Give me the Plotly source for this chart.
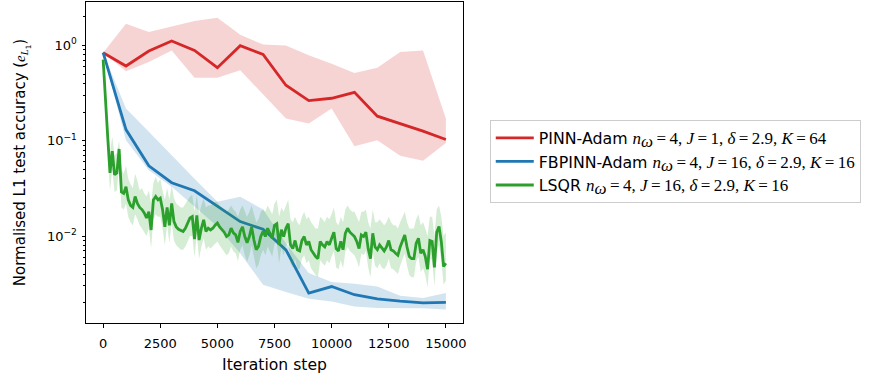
import plotly.graph_objects as go

# ---------------- data ----------------
coarse_steps = list(range(0, 15001, 1000))
fine_steps = list(range(0, 15001, 100))

pinn_mean = [0.838, 0.608, 0.872, 1.11, 0.887, 0.584, 0.993, 0.805, 0.382, 0.264,
             0.279, 0.322, 0.181, 0.152, 0.126, 0.103]
pinn_upper = [0.838, 1.69, 1.38, 1.58, 1.80, 1.95, 1.29, 1.02, 1.0, 0.786,
              0.643, 0.514, 0.584, 0.852, 0.886, 0.171]
pinn_lower = [0.838, 0.535, 0.670, 0.886, 0.459, 0.459, 0.548, 0.305, 0.171, 0.152,
              0.218, 0.0878, 0.101, 0.0695, 0.0617, 0.095]

fb_mean = [0.838, 0.131, 0.0546, 0.0363, 0.0299, 0.0204, 0.0142, 0.0118, 0.00718, 0.00253,
           0.00296, 0.00243, 0.0022, 0.00208, 0.0020, 0.00202]
fb_upper = [0.838, 0.218, 0.124, 0.070, 0.040, 0.023, 0.0259, 0.019, 0.0084, 0.0041,
            0.0033, 0.00316, 0.00296, 0.00237, 0.00224, 0.00253]
fb_lower = [0.838, 0.101, 0.049, 0.033, 0.0204, 0.0126, 0.0066, 0.0031, 0.0026, 0.0022,
            0.00206, 0.00183, 0.00176, 0.00176, 0.00175, 0.0017]

lsqr_mean = [0.71, 0.25, 0.11, 0.046, 0.078, 0.044, 0.046, 0.082, 0.029, 0.028,
             0.033, 0.024, 0.021, 0.020, 0.026, 0.022, 0.020, 0.019, 0.0175, 0.0155,
             0.018, 0.0116, 0.024, 0.026, 0.024, 0.025, 0.019, 0.0125, 0.020, 0.013,
             0.022, 0.0142, 0.0125, 0.0118, 0.0114, 0.0112, 0.0121, 0.0137, 0.0155, 0.016,
             0.0093, 0.0165, 0.0091, 0.0121, 0.0148, 0.0112, 0.0121, 0.0116, 0.0121, 0.013,
             0.0137, 0.0125, 0.0116, 0.011, 0.0099, 0.0103, 0.0121, 0.0108, 0.0103, 0.0086,
             0.0112, 0.0125, 0.0099, 0.0085, 0.0099, 0.0125, 0.0091, 0.0072, 0.0078, 0.0099,
             0.0112, 0.0099, 0.0121, 0.0108, 0.0095, 0.013, 0.0135, 0.0081, 0.0117, 0.0099,
             0.0121, 0.0135, 0.0081, 0.0074, 0.009, 0.0072, 0.007, 0.009, 0.0099, 0.0081,
             0.0088, 0.0072, 0.0066, 0.0061, 0.0058, 0.0088, 0.0081, 0.0077, 0.0088, 0.0081,
             0.0095, 0.011, 0.0074, 0.007, 0.0088, 0.0072, 0.0107, 0.0121, 0.011, 0.0103,
             0.0099, 0.0088, 0.0074, 0.0103, 0.0099, 0.011, 0.0074, 0.0058, 0.0107, 0.0077,
             0.0072, 0.0081, 0.0074, 0.007, 0.0077, 0.009, 0.0072, 0.007, 0.0066, 0.0063,
             0.0077, 0.0088, 0.0103, 0.0077, 0.0061, 0.0058, 0.0058, 0.0084, 0.0095, 0.0066,
             0.0072, 0.0061, 0.0045, 0.009, 0.0088, 0.0047, 0.011, 0.0126, 0.0088, 0.0048,
             0.0052]
lsqr_upper = [0.75, 0.32, 0.15, 0.075, 0.11, 0.07, 0.075, 0.10, 0.05, 0.045,
              0.055, 0.04, 0.035, 0.032, 0.045, 0.038, 0.03, 0.032, 0.028, 0.026,
              0.03, 0.022, 0.036, 0.042, 0.036, 0.04, 0.03, 0.024, 0.032, 0.024,
              0.034, 0.025, 0.022, 0.021, 0.02, 0.02, 0.022, 0.024, 0.026, 0.027,
              0.018, 0.027, 0.017, 0.021, 0.025, 0.02, 0.021, 0.021, 0.022, 0.023,
              0.023, 0.021, 0.02, 0.019, 0.018, 0.019, 0.021, 0.019, 0.018, 0.016,
              0.019, 0.021, 0.018, 0.016, 0.018, 0.021, 0.017, 0.014, 0.015, 0.018,
              0.019, 0.018, 0.021, 0.019, 0.017, 0.022, 0.024, 0.016, 0.02, 0.018,
              0.021, 0.024, 0.015, 0.014, 0.016, 0.014, 0.013, 0.016, 0.018, 0.015,
              0.016, 0.014, 0.013, 0.012, 0.012, 0.016, 0.015, 0.014, 0.016, 0.015,
              0.017, 0.02, 0.014, 0.013, 0.016, 0.014, 0.019, 0.021, 0.019, 0.018,
              0.018, 0.016, 0.014, 0.018, 0.018, 0.019, 0.014, 0.012, 0.019, 0.014,
              0.014, 0.015, 0.014, 0.013, 0.014, 0.016, 0.014, 0.013, 0.013, 0.012,
              0.014, 0.016, 0.018, 0.014, 0.012, 0.012, 0.012, 0.015, 0.017, 0.013,
              0.014, 0.012, 0.01, 0.016, 0.016, 0.01, 0.019, 0.021, 0.016, 0.01,
              0.011]
lsqr_lower = [0.67, 0.18, 0.07, 0.03, 0.05, 0.029, 0.03, 0.055, 0.02, 0.019,
              0.022, 0.016, 0.014, 0.013, 0.017, 0.015, 0.013, 0.012, 0.011, 0.01,
              0.012, 0.0075, 0.015, 0.017, 0.016, 0.016, 0.012, 0.008, 0.013, 0.0085,
              0.014, 0.009, 0.008, 0.0075, 0.0072, 0.0072, 0.0078, 0.0088, 0.01, 0.01,
              0.006, 0.0105, 0.0058, 0.0078, 0.0095, 0.0072, 0.0078, 0.0074, 0.0078, 0.0083,
              0.0088, 0.008, 0.0074, 0.007, 0.0063, 0.0066, 0.0078, 0.0069, 0.0066, 0.0055,
              0.0072, 0.008, 0.0063, 0.0054, 0.0063, 0.008, 0.0058, 0.0046, 0.005, 0.0063,
              0.0072, 0.0063, 0.0078, 0.0069, 0.0061, 0.0083, 0.0086, 0.0052, 0.0075, 0.0063,
              0.0078, 0.0086, 0.0052, 0.0047, 0.0058, 0.0046, 0.0045, 0.0058, 0.0063, 0.0052,
              0.0056, 0.0046, 0.0042, 0.0039, 0.0037, 0.0056, 0.0052, 0.0049, 0.0056, 0.0052,
              0.0061, 0.007, 0.0047, 0.0045, 0.0056, 0.0046, 0.0068, 0.0077, 0.007, 0.0066,
              0.0063, 0.0056, 0.0047, 0.0066, 0.0063, 0.007, 0.0047, 0.0037, 0.0068, 0.0049,
              0.0046, 0.0052, 0.0047, 0.0045, 0.0049, 0.0058, 0.0046, 0.0045, 0.0042, 0.004,
              0.0049, 0.0056, 0.0066, 0.0049, 0.0039, 0.0037, 0.0037, 0.0054, 0.0061, 0.0042,
              0.0046, 0.0039, 0.0029, 0.0058, 0.0056, 0.003, 0.007, 0.008, 0.0056, 0.0031,
              0.0034]

x_ticks = [0, 2500, 5000, 7500, 10000, 12500, 15000]
x_tick_text = ["0", "2500", "5000", "7500", "10000", "12500", "15000"]
y_ticks = [1, 0.1, 0.01]
y_tick_text = ["10<sup>0</sup>", "10<sup>\u22121</sup>", "10<sup>\u22122</sup>"]

M = "<span style='font-family:Liberation Serif;font-style:italic;font-size:17px'>"
R = "<span style='font-family:Liberation Serif;font-size:17px'>"
E = "</span>"
EQ = "\u2009=\u2009"
names = [
    f"PINN-Adam {M}n{E}<sub>{M}\u03c9{E}</sub>{R}{EQ}4, {E}{M}J{E}{R}{EQ}1, {E}{M}\u03b4{E}{R}{EQ}2.9, {E}{M}K{E}{R}{EQ}64{E}",
    f"FBPINN-Adam {M}n{E}<sub>{M}\u03c9{E}</sub>{R}{EQ}4, {E}{M}J{E}{R}{EQ}16, {E}{M}\u03b4{E}{R}{EQ}2.9, {E}{M}K{E}{R}{EQ}16{E}",
    f"LSQR {M}n{E}<sub>{M}\u03c9{E}</sub>{R}{EQ}4, {E}{M}J{E}{R}{EQ}16, {E}{M}\u03b4{E}{R}{EQ}2.9, {E}{M}K{E}{R}{EQ}16{E}",
]

MT = "<span style='font-family:Liberation Serif;font-style:italic'>"
y_title = "Normalised L1 test accuracy (" + MT + "e" + E + "<sub>" + MT + "L" + E + "<sub>1</sub></sub>)"

series = [
    (coarse_steps, pinn_mean, pinn_lower, pinn_upper, "#d62728", "rgba(214,39,40,0.2)"),
    (coarse_steps, fb_mean, fb_lower, fb_upper, "#1f77b4", "rgba(31,119,180,0.2)"),
    (fine_steps, lsqr_mean, lsqr_lower, lsqr_upper, "#2ca02c", "rgba(44,160,44,0.2)"),
]

fig = go.Figure()
for i, ((xs, mean, lo, hi, col, fcol), name) in enumerate(zip(series, names)):
    fig.add_trace(go.Scatter(x=xs, y=lo, mode="lines", line=dict(width=0),
                             showlegend=False, hoverinfo="skip"))
    fig.add_trace(go.Scatter(x=xs, y=hi, mode="lines", line=dict(width=0),
                             fill="tonexty", fillcolor=fcol,
                             showlegend=False, hoverinfo="skip"))
    fig.add_trace(go.Scatter(x=xs, y=mean, mode="lines", name=name,
                             legendgroup=f"g{i}",
                             line=dict(color=col, width=2.8)))

minor_vals = []
for d in [0.001, 0.01, 0.1, 1]:
    for k in range(2, 10):
        minor_vals.append(k * d)

fig.update_layout(
    width=874, height=376,
    margin=dict(l=86, r=411, t=2, b=53),
    paper_bgcolor="white", plot_bgcolor="white",
    font=dict(family="DejaVu Sans", size=13.9, color="black"),
    showlegend=True,
    legend=dict(x=1.071, y=0.632, xanchor="left", yanchor="top",
                bgcolor="white", bordercolor="#cccccc", borderwidth=1,
                font=dict(size=15.8), traceorder="normal", tracegroupgap=0,
                itemwidth=38),
    xaxis=dict(range=[-750, 15750], tickvals=x_ticks, ticktext=x_tick_text,
               ticks="outside", ticklen=3.5, tickwidth=1, tickcolor="black",
               tickfont=dict(size=13), ticklabelstandoff=5,
               showline=True, linecolor="black", linewidth=1, mirror=True,
               showgrid=False, zeroline=False,
               title=dict(text="Iteration step", standoff=8, font=dict(size=15.6))),
    yaxis=dict(type="log", range=[-2.911, 0.455], tickvals=y_ticks, ticktext=y_tick_text,
               ticks="outside", ticklen=3.5, tickwidth=1, tickcolor="black",
               tickfont=dict(size=13), ticklabelstandoff=2,
               minor=dict(tickvals=minor_vals, ticks="outside", ticklen=2,
                          tickcolor="black", showgrid=False),
               showline=True, linecolor="black", linewidth=1, mirror=True,
               showgrid=False, zeroline=False,
               title=dict(text=y_title, standoff=17, font=dict(size=15))),
)

fig.write_html("out.html")
